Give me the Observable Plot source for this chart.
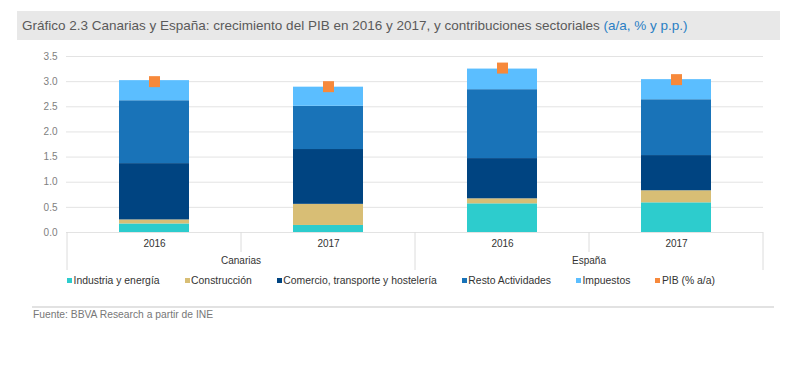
<!DOCTYPE html>
<html>
<head>
<meta charset="utf-8">
<script src="https://cdn.jsdelivr.net/npm/d3@7"></script>
<script src="https://cdn.jsdelivr.net/npm/@observablehq/plot@0.6"></script>
<style>
  body { margin: 0; background: #fff; font-family: "Liberation Sans", Arial, sans-serif; }
  #wrap { position: relative; width: 810px; height: 366px; overflow: hidden; }
  #title { position: absolute; left: 17px; top: 11px; width: 763px; height: 29px; background: #e8e8e8;
           box-sizing: border-box; padding-left: 5px; line-height: 30px; font-size: 13.5px; color: #5a5a5a; white-space: nowrap; }
  #title span { color: #2a7fc4; }
  #chart { position: absolute; left: 0; top: 40px; }
  #legend { position: absolute; left: 67px; top: 275px; display: flex; font-size: 10.4px; color: #333; white-space: nowrap; }
  #legend .item { display: flex; align-items: center; margin-right: 25px; }
  #legend .sw { width: 5px; height: 5px; margin-right: 1.5px; }
  #rule { position: absolute; left: 32px; top: 306px; width: 742px; height: 2px; background: #e2e2e2; }
  #source { position: absolute; left: 33px; top: 309px; font-size: 10.3px; color: #777; }
</style>
</head>
<body>
<div id="wrap">
  <div id="title">Gráfico 2.3 Canarias y España: crecimiento del PIB en 2016 y 2017, y contribuciones sectoriales <span>(a/a, % y p.p.)</span></div>
  <div id="chart"></div>
  <div id="legend"></div>
  <div id="rule"></div>
  <div id="source">Fuente: BBVA Research a partir de INE</div>
</div>
<script>
// ---- data ----
const regions = ["Canarias", "Canarias", "España", "España"];
const years = ["2016", "2017", "2016", "2017"];
const seriesNames = ["Industria y energía", "Construcción", "Comercio, transporte y hostelería", "Resto Actividades", "Impuestos"];
const industria = [0.17, 0.14, 0.57, 0.59];
const construccion = [0.08, 0.42, 0.10, 0.24];
const comercio = [1.12, 1.09, 0.80, 0.70];
const resto = [1.25, 0.86, 1.37, 1.11];
const impuestos = [0.40, 0.38, 0.41, 0.40];
const pib = [3.00, 2.90, 3.27, 3.04];
const pibName = "PIB (% a/a)";
const yTicks = [0, 0.5, 1.0, 1.5, 2.0, 2.5, 3.0, 3.5];

const colors = ["#2dcccd", "#d8be75", "#004481", "#1973b8", "#5bbeff"];
const pibColor = "#f7893b";

// ---- build tables ----
const keys = regions.map((r, i) => r + "|" + years[i]);
const seriesValues = [industria, construccion, comercio, resto, impuestos];
const stacked = [];
seriesNames.forEach((s, si) => {
  keys.forEach((k, i) => stacked.push({ key: k, series: s, value: seriesValues[si][i] }));
});
const pibData = keys.map((k, i) => ({ key: k, value: pib[i] }));

const chart = Plot.plot({
  width: 810,
  height: 235,
  marginTop: 16,
  marginBottom: 43,
  marginLeft: 66,
  marginRight: 47,
  style: { fontFamily: "Liberation Sans, Arial, sans-serif", fontSize: "10px", background: "transparent" },
  x: { domain: keys, paddingInner: 0.6, paddingOuter: 0.3, label: null },
  y: { domain: [0, 3.5], label: null },
  color: { domain: seriesNames, range: colors },
  marks: [
    Plot.gridY(yTicks, { stroke: "#e3e3e3", strokeOpacity: 1 }),
    Plot.barY(stacked, { x: "key", y: "value", fill: "series" }),
    Plot.dot(pibData, { x: "key", y: "value", symbol: "square", r: 6.2, fill: pibColor, stroke: "none" }),
    Plot.axisY({ ticks: yTicks, tickFormat: d3.format(".1f"), tickSize: 0, tickPadding: 9, fill: "#808080", label: null }),
    Plot.axisX({ tickSize: 0, tickPadding: 7, tickFormat: k => k.split("|")[1], fill: "#333", label: null })
  ]
});
document.getElementById("chart").appendChild(chart);

// separators and region labels, positioned from the plot's own scales
const sx = chart.scale("x");
const sy = chart.scale("y");
const y0 = sy.apply(0);
const half = (sx.step - sx.bandwidth) / 2;
const svg = d3.select(chart);
const g = svg.append("g");
keys.forEach((k, i) => {
  const left = sx.apply(k) - half;
  const isRegionStart = i === 0 || regions[i] !== regions[i - 1];
  g.append("line").attr("x1", left).attr("x2", left).attr("y1", y0).attr("y2", y0 + (isRegionStart ? 38 : 20))
    .attr("stroke", "#dcdcdc");
});
{
  const lastK = keys[keys.length - 1];
  const right = sx.apply(lastK) + sx.bandwidth + half;
  g.append("line").attr("x1", right).attr("x2", right).attr("y1", y0).attr("y2", y0 + 38).attr("stroke", "#dcdcdc");
}
const uniqRegions = [...new Set(regions)];
uniqRegions.forEach(r => {
  const ks = keys.filter((k, i) => regions[i] === r);
  const cx = d3.mean(ks, k => sx.apply(k) + sx.bandwidth / 2);
  g.append("text").attr("x", cx).attr("y", y0 + 32).attr("text-anchor", "middle")
    .attr("fill", "#333").attr("font-size", 10).text(r);
});

// legend
const legend = document.getElementById("legend");
const legendItems = seriesNames.map((s, i) => ({ name: s, color: colors[i] })).concat([{ name: pibName, color: pibColor }]);
legendItems.forEach(it => {
  const d = document.createElement("div");
  d.className = "item";
  d.innerHTML = `<span class="sw" style="background:${it.color}"></span><span>${it.name}</span>`;
  legend.appendChild(d);
});
</script>
</body>
</html>
